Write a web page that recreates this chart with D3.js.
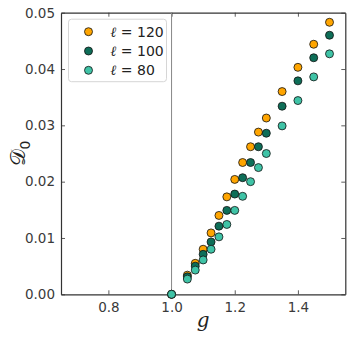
<!DOCTYPE html>
<html>
<head>
<meta charset="utf-8">
<script src="https://cdn.jsdelivr.net/npm/d3@7"></script>
<style>
  body { margin: 0; background: #fff; }
  text { font-family: "DejaVu Sans", sans-serif; }
</style>
</head>
<body>
<div id="chart"></div>
<script>
// coupling values g, shared by every series
const G_VALUES = [1.0, 1.05, 1.075, 1.1, 1.125, 1.15, 1.175, 1.2, 1.225, 1.25, 1.275, 1.3, 1.35, 1.4, 1.45, 1.5];

// D0 for each system size
const D_L120 = [0, 0.0034, 0.0055, 0.0080, 0.0109, 0.0140, 0.0173, 0.0204, 0.0234, 0.0262, 0.0288, 0.0313, 0.0360, 0.0403, 0.0444, 0.0483];
const D_L100 = [0, 0.0031, 0.0050, 0.0071, 0.0093, 0.0121, 0.0149, 0.0178, 0.0207, 0.0234, 0.0262, 0.0286, 0.0334, 0.0379, 0.0420, 0.0460];
const D_L80  = [0, 0.0027, 0.0043, 0.0061, 0.0080, 0.0102, 0.0124, 0.0149, 0.0174, 0.0200, 0.0225, 0.0250, 0.0299, 0.0344, 0.0386, 0.0427];

const SERIES_LABELS = ["120", "100", "80"];
const X_TICKS = [0.8, 1.0, 1.2, 1.4];
const Y_TICKS = [0, 0.01, 0.02, 0.03, 0.04, 0.05];

const COLORS = ["#ffa500", "#0e6e58", "#3fc3a6"];

const series = [D_L120, D_L100, D_L80].map((vals, i) => ({
    label: SERIES_LABELS[i],
    color: COLORS[i],
    points: G_VALUES.map((gv, j) => ({ g: gv, d: vals[j] }))
}));

const W = 353, H = 340;
const margin = { top: 12.7, right: 7.7, bottom: 45.7, left: 61 };
const width = W - margin.left - margin.right;
const height = H - margin.top - margin.bottom;

const svg = d3.select("#chart").append("svg")
    .attr("width", W)
    .attr("height", H);

const plot = svg.append("g")
    .attr("transform", `translate(${margin.left},${margin.top})`);

const x = d3.scaleLinear().domain([0.65, 1.55]).range([0, width]);
const y = d3.scaleLinear().domain([0, 0.05]).range([height, 0]);

// axes, ticks pointing inward on all four sides
const axisColor = "#333";
const fmtX = d3.format(".1f");
const fmtY = d3.format(".2f");

const axBottom = plot.append("g").attr("transform", `translate(0,${height})`)
    .call(d3.axisBottom(x).tickValues(X_TICKS).tickSizeInner(-4).tickSizeOuter(0).tickPadding(8).tickFormat(fmtX));
const axTop = plot.append("g")
    .call(d3.axisTop(x).tickValues(X_TICKS).tickSizeInner(-4).tickSizeOuter(0).tickFormat(""));
const axLeft = plot.append("g")
    .call(d3.axisLeft(y).tickValues(Y_TICKS).tickSizeInner(-4).tickSizeOuter(0).tickPadding(6).tickFormat(fmtY));
const axRight = plot.append("g").attr("transform", `translate(${width},0)`)
    .call(d3.axisRight(y).tickValues(Y_TICKS).tickSizeInner(-4).tickSizeOuter(0).tickFormat(""));

[axBottom, axTop, axLeft, axRight].forEach(a => {
    a.select(".domain").attr("stroke", axisColor).attr("stroke-width", 1.2);
    a.selectAll(".tick line").attr("stroke", axisColor).attr("stroke-width", 0.8);
    a.selectAll(".tick text").attr("fill", "#3a3a3a").style("font-size", "13.5px");
});

// critical point marker at g = 1
plot.append("line")
    .attr("x1", x(1.0)).attr("x2", x(1.0))
    .attr("y1", 0).attr("y2", height)
    .attr("stroke", "#888")
    .attr("stroke-width", 1);

// points, drawn in legend order so l=80 sits on top
series.forEach(s => {
    plot.append("g").selectAll("circle")
        .data(s.points)
        .join("circle")
        .attr("cx", d => x(d.g))
        .attr("cy", d => y(d.d))
        .attr("r", 4)
        .attr("fill", s.color)
        .attr("stroke", "#111")
        .attr("stroke-width", 0.8);
});

// legend
const legend = plot.append("g").attr("transform", "translate(7.5,6.5)");
legend.append("rect")
    .attr("width", 98).attr("height", 62.5)
    .attr("rx", 3)
    .attr("fill", "#fff").attr("fill-opacity", 0.8)
    .attr("stroke", "#d6d6d6").attr("stroke-width", 1);

series.forEach((s, i) => {
    const row = legend.append("g").attr("transform", `translate(0,${12.5 + i * 19.3})`);
    row.append("circle")
        .attr("cx", 20).attr("cy", 0).attr("r", 4)
        .attr("fill", s.color).attr("stroke", "#111").attr("stroke-width", 0.8);
    const t = row.append("text")
        .attr("x", 42).attr("y", 5)
        .style("font-size", "14px")
        .attr("fill", "#222");
    t.append("tspan").style("font-style", "italic").style("font-family", "DejaVu Serif").text("ℓ");
    t.append("tspan").text(" = " + s.label);
});

// axis labels
svg.append("text")
    .attr("x", margin.left + x(1.1))
    .attr("y", 327)
    .attr("text-anchor", "middle")
    .style("font-family", "DejaVu Serif")
    .style("font-style", "italic")
    .style("font-size", "20px")
    .attr("fill", "#222")
    .text("g");

const ylab = svg.append("text")
    .attr("transform", `translate(25,${margin.top + height / 2}) rotate(-90)`)
    .attr("text-anchor", "middle")
    .style("font-size", "21px")
    .attr("fill", "#222");
ylab.append("tspan").text("𝒟");
ylab.append("tspan").attr("dy", 5).style("font-size", "14px").text("0");
</script>
</body>
</html>
